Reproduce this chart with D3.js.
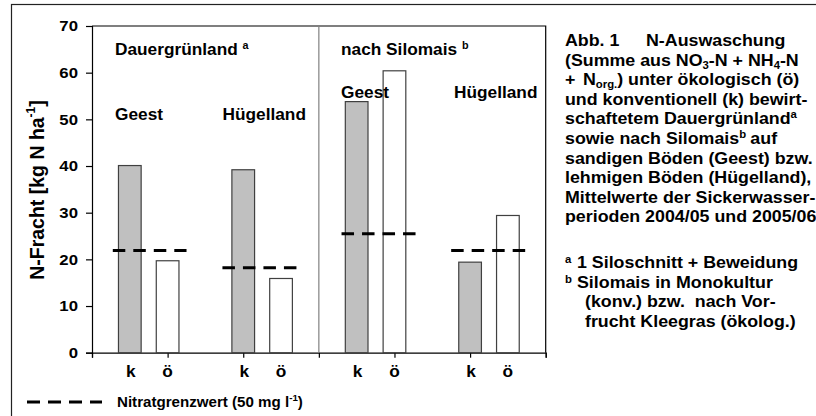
<!DOCTYPE html>
<html lang="de">
<meta charset="utf-8">
<title>N-Auswaschung</title>
<style>
    body { margin: 0; background: white; }
    svg text { font-family: "Liberation Sans", Arial, sans-serif; font-weight: bold; fill: black; }
</style>
<body>
<svg id="canvas"></svg>
<script src="https://cdn.jsdelivr.net/npm/d3@7/dist/d3.min.js"></script>
<script>

    /////////////////////// Data //////////////////////
    var groupNames   = ["Geest", "Hügelland", "Geest", "Hügelland"];
    var systemLabels = ["k", "ö"];
    var konvValues   = [40.1, 39.2, 53.8, 19.4];   // k, grey bars
    var oekoValues   = [19.7, 15.9, 60.4, 29.4];   // ö, white bars
    var limitValues  = [21.9, 18.2, 25.5, 21.9];   // Nitratgrenzwert
    var konvPos      = [1, 4, 7, 10];
    var oekoPos      = [2, 5, 8, 11];
    var limitStart   = [0.55, 3.45, 6.6, 9.5];
    var limitEnd     = [2.5, 5.45, 8.6, 11.5];
    var yTicks       = [0, 10, 20, 30, 40, 50, 60, 70];
    var xTicks       = [0, 2, 4, 6, 8, 10, 12];
    ///////////////////////////////////////////////////

    ///////// Position and Dimension Variables ////////
    var dimensions   = [816, 416];
    var plot_left    = 92;
    var plot_right   = 545.7;
    var plot_top     = 26;
    var plot_bottom  = 352.7;
    var bar_w        = 0.6;          // in category units
    var stretch      = 1.08;         // text in the picture is slightly wide
    ///////////////////////////////////////////////////

    ///////////////// Style Variables /////////////////
    var grey_fill    = '#c0c0c0';
    var bar_line     = '#404040';
    var divider_col  = '#808080';
    ///////////////////////////////////////////////////

    var svg = d3.select("#canvas")
        .attr('width',  dimensions[0])
        .attr('height', dimensions[1]);

    var x = d3.scaleLinear().domain([0, 12]).range([plot_left, plot_right]);
    var y = d3.scaleLinear().domain([0, 70]).range([plot_bottom, plot_top]);

    // helper: text with the picture's horizontal stretch
    function label(parent, px, py, size, anchor) {
        return parent.append("text")
            .attr('transform', 'translate(' + px + ',' + py + ') scale(' + stretch + ',1)')
            .attr('font-size', size)
            .attr('text-anchor', anchor || 'start');
    }

    //////////////////// outer frame //////////////////
    svg.append("rect")
        .attr('x', 11.5).attr('y', 4.5)
        .attr('width', 900).attr('height', 500)
        .attr('fill', 'none')
        .attr('stroke', '#222')
        .attr('stroke-width', 1.2);
    ///////////////////////////////////////////////////

    ////////////////////// axes ///////////////////////
    var yAxis = svg.append("g")
        .attr('transform', 'translate(' + plot_left + ',0)')
        .call(d3.axisLeft(y).tickValues(yTicks).tickSize(6).tickPadding(7));
    yAxis.selectAll("text")
        .attr('font-size', 15.5)
        .attr('font-family', null)
        .attr('transform', 'scale(' + stretch + ',1)');

    var xAxis = svg.append("g")
        .attr('transform', 'translate(0,' + plot_bottom + ')')
        .call(d3.axisBottom(x).tickValues(xTicks).tickSize(5).tickFormat(""));

    svg.selectAll(".domain, .tick line").attr('stroke', '#000').attr('stroke-width', 1.2);

    // top and right frame of the plot area
    svg.append("path")
        .attr('d', 'M' + x(0) + ',' + y(70) + 'H' + x(12) + 'V' + y(0))
        .attr('fill', 'none')
        .attr('stroke', '#000')
        .attr('stroke-width', 1.2);

    // divider between the two parts
    svg.append("line")
        .attr('x1', x(6)).attr('x2', x(6))
        .attr('y1', y(70)).attr('y2', y(0))
        .attr('stroke', divider_col)
        .attr('stroke-width', 1.2);
    ///////////////////////////////////////////////////

    ////////////////////// bars ///////////////////////
    svg.selectAll(".bar-k")
        .data(konvValues)
        .enter().append("rect")
        .attr('class', 'bar-k')
        .attr('x', function (d, i) { return x(konvPos[i] - bar_w / 2); })
        .attr('width', function () { return x(bar_w) - x(0); })
        .attr('y', function (d) { return y(d); })
        .attr('height', function (d) { return y(0) - y(d); })
        .attr('fill', grey_fill)
        .attr('stroke', bar_line)
        .attr('stroke-width', 1.2);

    svg.selectAll(".bar-o")
        .data(oekoValues)
        .enter().append("rect")
        .attr('class', 'bar-o')
        .attr('x', function (d, i) { return x(oekoPos[i] - bar_w / 2); })
        .attr('width', function () { return x(bar_w) - x(0); })
        .attr('y', function (d) { return y(d); })
        .attr('height', function (d) { return y(0) - y(d); })
        .attr('fill', 'white')
        .attr('stroke', bar_line)
        .attr('stroke-width', 1.2);

    // Nitratgrenzwert
    svg.selectAll(".limit")
        .data(limitValues)
        .enter().append("line")
        .attr('class', 'limit')
        .attr('x1', function (d, i) { return x(limitStart[i]); })
        .attr('x2', function (d, i) { return x(limitEnd[i]); })
        .attr('y1', function (d) { return y(d); })
        .attr('y2', function (d) { return y(d); })
        .attr('stroke', '#000')
        .attr('stroke-width', 3)
        .attr('stroke-dasharray', '12.5,8');
    ///////////////////////////////////////////////////

    //////////////////// x labels /////////////////////
    konvPos.forEach(function (p) {
        label(svg, x(p) + 1, 377, 16, 'middle').text(systemLabels[0]);
    });
    oekoPos.forEach(function (p) {
        label(svg, x(p), 377, 16, 'middle').text(systemLabels[1]);
    });
    ///////////////////////////////////////////////////

    ///////////////// group headings //////////////////
    var t = label(svg, 115, 55, 16);
    t.append("tspan").text("Dauergrünland ");
    t.append("tspan").attr('font-size', 10).attr('dy', -6).text("a");

    t = label(svg, 341, 55, 16);
    t.append("tspan").text("nach Silomais ");
    t.append("tspan").attr('font-size', 10).attr('dy', -6).text("b");

    label(svg, 115, 119.5, 16).text(groupNames[0]);
    label(svg, 222.5, 119.5, 16).text(groupNames[1]);
    label(svg, 341, 98, 16).text(groupNames[2]);
    label(svg, 454, 98, 16).text(groupNames[3]);
    ///////////////////////////////////////////////////

    /////////////////// y axis title //////////////////
    var yt = svg.append("text")
        .attr('transform', 'translate(44,190) scale(' + stretch + ',1) rotate(-90)')
        .attr('text-anchor', 'middle')
        .attr('font-size', 19.5);
    yt.append("tspan").text("N-Fracht [kg N ha");
    yt.append("tspan").attr('font-size', 12).attr('dy', -8).text("-1");
    yt.append("tspan").attr('dy', 8).text("]");
    ///////////////////////////////////////////////////

    ////////////////////// legend /////////////////////
    svg.append("line")
        .attr('x1', 27).attr('x2', 102)
        .attr('y1', 402).attr('y2', 402)
        .attr('stroke', '#000')
        .attr('stroke-width', 3)
        .attr('stroke-dasharray', '13,8');
    var lg = label(svg, 117, 406.5, 14);
    lg.append("tspan").text("Nitratgrenzwert (50 mg l");
    lg.append("tspan").attr('font-size', 9).attr('dy', -6).text("-1");
    lg.append("tspan").attr('dy', 6).text(")");
    ///////////////////////////////////////////////////

    ///////////////// caption block ///////////////////
    var capStretch = 1.08;
    var cap = svg.append("g")
        .attr('transform', 'translate(565,0) scale(' + capStretch + ',1)');
    var fs = 16.5, small = 10.5;
    var lineH = 19.6, base = 46;

    function capLine(i, dx) {
        return cap.append("text")
            .attr('x', dx || 0)
            .attr('y', base + i * lineH)
            .attr('font-size', fs);
    }
    function sub(sel, s)   { sel.append("tspan").attr('font-size', small).attr('dy', 3).text(s); }
    function sup(sel, s)   { sel.append("tspan").attr('font-size', small).attr('dy', -6).text(s); }
    function norm(sel, s, dy) { sel.append("tspan").attr('dy', dy || 0).text(s); }

    var c = capLine(0);
    c.append("tspan").text("Abb. 1");
    c.append("tspan").attr('x', (646 - 565) / capStretch).text("N-Auswaschung");

    c = capLine(1);
    norm(c, "(Summe aus NO"); sub(c, "3"); norm(c, "-N + NH", -3); sub(c, "4"); norm(c, "-N", -3);

    c = capLine(2);
    c.append("tspan").text("+");
    c.append("tspan").attr('x', (583 - 565) / capStretch).text("N");
    sub(c, "org."); norm(c, ") unter ökologisch (ö)", -3);

    capLine(3).text("und konventionell (k) bewirt-");

    c = capLine(4);
    norm(c, "schaftetem Dauergrünland"); sup(c, "a");

    c = capLine(5);
    norm(c, "sowie nach Silomais"); sup(c, "b");
    c.append("tspan").attr('dy', 6).attr('dx', 4).text("auf");

    capLine(6).text("sandigen Böden (Geest) bzw.");
    capLine(7).text("lehmigen Böden (Hügelland),");
    capLine(8).text("Mittelwerte der Sickerwasser-");
    capLine(9).text("perioden 2004/05 und 2005/06");

    // footnotes
    var fnBase = [268.5, 288, 307.5, 327];
    var fnText = ["1 Siloschnitt + Beweidung", "Silomais in Monokultur",
                  "(konv.) bzw.  nach Vor-", "frucht Kleegras (ökolog.)"];
    var fnX    = [577, 577, 585, 585];
    var fnMark = ["a", "b", "", ""];
    fnText.forEach(function (s, i) {
        if (fnMark[i]) {
            cap.append("text").attr('x', 0).attr('y', fnBase[i] - 5)
               .attr('font-size', small).text(fnMark[i]);
        }
        cap.append("text")
           .attr('x', (fnX[i] - 565) / capStretch)
           .attr('y', fnBase[i])
           .attr('font-size', fs)
           .style('white-space', 'pre')
           .text(s);
    });
    ///////////////////////////////////////////////////

</script>
</body>
</html>
